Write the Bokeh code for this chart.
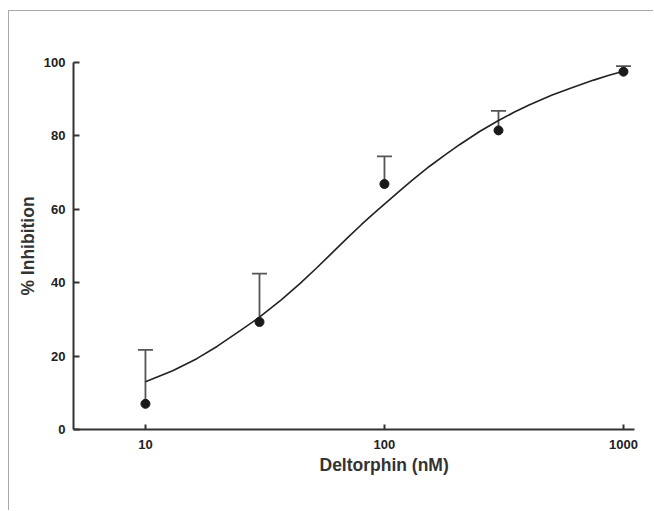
from bokeh.plotting import figure
from bokeh.models import Range1d, FixedTicker, Whisker, TeeHead, ColumnDataSource, Title
from bokeh.embed import file_html
from bokeh.resources import INLINE

conc = [10, 30, 100, 300, 1000]
inhibition = [7.0, 29.3, 66.9, 81.5, 97.5]
err_top = [21.7, 42.5, 74.4, 86.8, 99.0]

# Fitted curve points
curve_x = [10, 13, 16.4, 20, 25, 30, 37, 44.4, 52, 59.2, 70, 80, 90, 100, 112, 130,
           155, 180, 206, 250, 300, 350, 405, 500, 600, 750, 870, 1000]
curve_y = [13.0, 16.0, 19.3, 22.7, 27.0, 30.6, 35.3, 39.8, 44.0, 47.6, 52.2, 55.8, 58.8, 61.4, 64.2, 67.8,
           71.8, 74.9, 77.6, 81.2, 84.2, 86.5, 88.5, 91.1, 93.0, 95.2, 96.5, 97.6]

x_ticks = [10, 100, 1000]
y_ticks = [0, 20, 40, 60, 80, 100]
x_title = "Deltorphin (nM)"
y_title = "% Inhibition"

p = figure(width=645, height=500, x_axis_type="log",
           x_range=Range1d(5, 1112), y_range=Range1d(0, 100),
           output_backend="svg", toolbar_location=None,
           min_border_left=64, min_border_top=51, min_border_right=20, min_border_bottom=82)
p.styles = {"border-top": "1px solid #a8a8a8", "border-left": "1px solid #a8a8a8",
            "margin-top": "10px", "margin-left": "8px"}
p.outline_line_color = None
p.xgrid.visible = False
p.ygrid.visible = False
p.background_fill_color = "white"
p.border_fill_color = "white"

src = ColumnDataSource(dict(x=conc, y=inhibition, top=err_top))

p.line(curve_x, curve_y, line_color="#222222", line_width=1.6)

w = Whisker(base="x", lower="y", upper="top", source=src,
            line_color="#555555", line_width=1.8,
            upper_head=TeeHead(size=15, line_color="#555555", line_width=1.8),
            lower_head=None)
p.add_layout(w)

p.scatter("x", "y", source=src, size=9, fill_color="#1a1a1a", line_color="#1a1a1a")

for ax in (p.xaxis[0], p.yaxis[0]):
    ax.axis_line_width = 2
    ax.axis_line_color = "#333333"
    ax.major_tick_line_color = "#333333"
    ax.major_tick_line_width = 2
    ax.major_tick_out = 0
    ax.minor_tick_line_color = None
    ax.major_label_text_font = "Liberation Sans"
    ax.major_label_text_font_style = "bold"
    ax.major_label_text_font_size = "13px"
    ax.major_label_text_color = "#222222"
    ax.axis_label_text_font = "Liberation Sans"
    ax.axis_label_text_font_style = "bold"
    ax.axis_label_text_font_size = "17.5px"
    ax.axis_label_text_color = "#333333"

p.xaxis.ticker = FixedTicker(ticks=x_ticks)
p.xaxis.major_label_overrides = {t: str(t) for t in x_ticks}
p.xaxis.major_tick_in = 5
p.xaxis.major_label_standoff = 10

p.yaxis.ticker = FixedTicker(ticks=y_ticks)
p.yaxis.major_tick_in = 6
p.yaxis.major_label_standoff = 8
p.yaxis.axis_label = y_title
p.yaxis.axis_label_standoff = 3

# x-axis title centred under the 100 tick, as in the original
xt = Title(text=x_title, align="left", offset=246, standoff=2,
           text_font="Liberation Sans", text_font_style="bold", text_font_size="17.5px",
           text_color="#333333")
p.add_layout(xt, "below")

open("out.html", "w").write(file_html(p, INLINE))
